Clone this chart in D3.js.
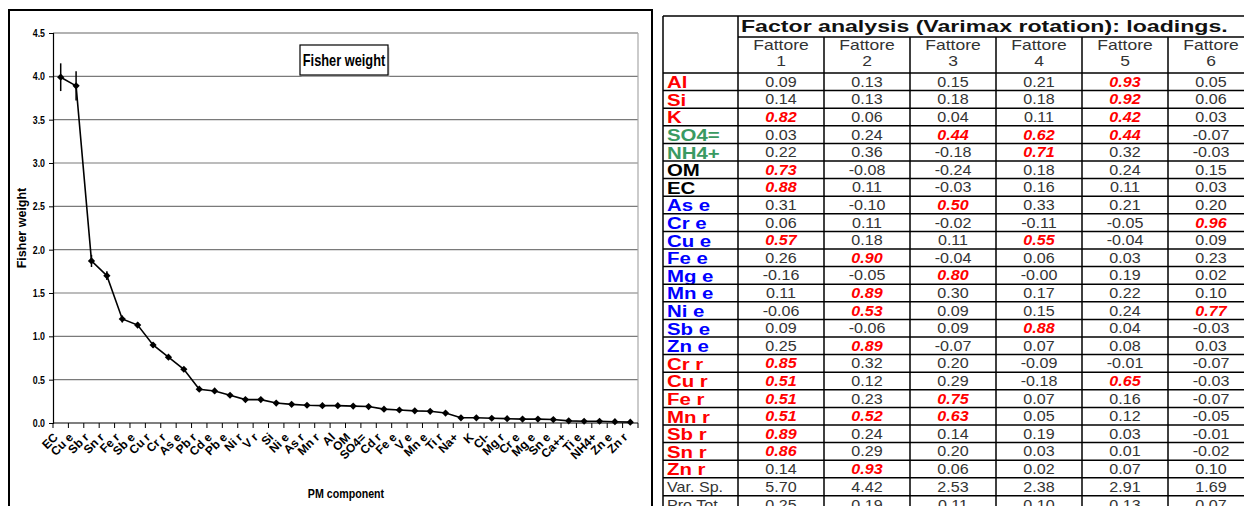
<!DOCTYPE html>
<html><head><meta charset="utf-8">
<script src="https://cdn.jsdelivr.net/npm/d3@7"></script>
<style>body{margin:0;background:#fff}svg{display:block}</style>
</head><body><svg id="c" width="1244" height="506"></svg>
<script>
// ---------- Fisher weight chart data ----------
const components = ["EC","Cu e","Sb r","Sn r","Fe r","Sb e","Cu r","Cr r","As e","Pb r","Cd e","Pb e","Ni r","V r","Si","Ni e","As r","Mn r","Al","OM","SO4=","Cd r","Fe e","V e","Mn e","Ti r","Na+","K","Cl-","Mg r","Cr e","Mg e","Sn e","Ca++","Ti e","NH4+","Zn e","Zn r"];
const fisherWeight = [3.99,3.89,1.87,1.70,1.20,1.13,0.90,0.76,0.62,0.39,0.37,0.32,0.27,0.27,0.23,0.215,0.205,0.20,0.20,0.195,0.19,0.16,0.15,0.14,0.135,0.115,0.06,0.06,0.055,0.05,0.045,0.045,0.04,0.025,0.02,0.02,0.015,0.01];
const fisherError = [0.16,0.17,0.07,0.05,0.04,0.03,0.03,0.02,0.02,0.02,0.02,0.02,0.02,0.01,0.01,0.01,0.01,0.01,0.01,0.01,0.01,0.01,0.01,0.01,0.01,0.01,0.01,0.01,0.01,0.01,0.01,0.01,0.01,0.01,0.01,0.01,0.01,0.01];
const yTickValues = [0,0.5,1,1.5,2,2.5,3,3.5,4,4.5];
const chartTitle = "Fisher weight";
const yTitle = "Fisher weight";
const xTitle = "PM component";

// ---------- Factor analysis table data ----------
const tableTitle = "Factor analysis (Varimax rotation): loadings.";
const factors = ["1","2","3","4","5","6"];
const rowLabels = ["Al","Si","K","SO4=","NH4+","OM","EC","As e","Cr e","Cu e","Fe e","Mg e","Mn e","Ni e","Sb e","Zn e","Cr r","Cu r","Fe r","Mn r","Sb r","Sn r","Zn r"];
const rowGroups = ["r","r","r","g","g","k","k","b","b","b","b","b","b","b","b","b","r","r","r","r","r","r","r"];
const fattore1 = ["0.09","0.14","0.82","0.03","0.22","0.73","0.88","0.31","0.06","0.57","0.26","-0.16","0.11","-0.06","0.09","0.25","0.85","0.51","0.51","0.51","0.89","0.86","0.14"];
const fattore2 = ["0.13","0.13","0.06","0.24","0.36","-0.08","0.11","-0.10","0.11","0.18","0.90","-0.05","0.89","0.53","-0.06","0.89","0.32","0.12","0.23","0.52","0.24","0.29","0.93"];
const fattore3 = ["0.15","0.18","0.04","0.44","-0.18","-0.24","-0.03","0.50","-0.02","0.11","-0.04","0.80","0.30","0.09","0.09","-0.07","0.20","0.29","0.75","0.63","0.14","0.20","0.06"];
const fattore4 = ["0.21","0.18","0.11","0.62","0.71","0.18","0.16","0.33","-0.11","0.55","0.06","-0.00","0.17","0.15","0.88","0.07","-0.09","-0.18","0.07","0.05","0.19","0.03","0.02"];
const fattore5 = ["0.93","0.92","0.42","0.44","0.32","0.24","0.11","0.21","-0.05","-0.04","0.03","0.19","0.22","0.24","0.04","0.08","-0.01","0.65","0.16","0.12","0.03","0.01","0.07"];
const fattore6 = ["0.05","0.06","0.03","-0.07","-0.03","0.15","0.03","0.20","0.96","0.09","0.23","0.02","0.10","0.77","-0.03","0.03","-0.07","-0.03","-0.07","-0.05","-0.01","-0.02","0.10"];
const summaryLabels = ["Var. Sp.","Pro Tot"];
const varSp = ["5.70","4.42","2.53","2.38","2.91","1.69"];
const proTot = ["0.25","0.19","0.11","0.10","0.13","0.07"];

const svg = d3.select("#c");
const SANS = "'Liberation Sans',Arial,sans-serif";

// helper: place text at data-x/data-y with horizontal scaling
const stretch = (sel, sx) => sel.attr("transform", function(){
  const xx = +this.getAttribute("data-x"), yy = +this.getAttribute("data-y");
  return `translate(${xx},${yy}) scale(${sx},1)`;});

// ---------- Left chart ----------
svg.append("rect").attr("x",9).attr("y",10).attr("width",643).attr("height",530)
  .attr("fill","#fff").attr("stroke","#000").attr("stroke-width",2);

const x = d3.scaleBand().domain(components).range([53,638]).padding(0);
const y = d3.scaleLinear().domain([0,4.5]).range([423,33]);

const g = svg.append("g");
g.selectAll("line.grid").data(yTickValues.filter(v=>v>0)).join("line")
  .attr("x1",53).attr("x2",638).attr("y1",d=>y(d)).attr("y2",d=>y(d))
  .attr("stroke","#7a7a7a").attr("stroke-width",1.2);
g.append("line").attr("x1",638).attr("x2",638).attr("y1",y(4.5)).attr("y2",y(0))
  .attr("stroke","#a8a8a8").attr("stroke-width",1.2);
g.append("line").attr("x1",53).attr("x2",638).attr("y1",y(4.5)).attr("y2",y(4.5))
  .attr("stroke","#a8a8a8").attr("stroke-width",1.2);

const yAxis = g.append("g").attr("transform","translate(53,0)")
  .call(d3.axisLeft(y).tickValues(yTickValues).tickFormat(d3.format(".1f")).tickSize(4).tickPadding(4));
yAxis.select(".domain").attr("stroke","#000").attr("stroke-width",1.2);
yAxis.selectAll(".tick line").attr("stroke","#000");
yAxis.selectAll(".tick text").attr("font-family",SANS).attr("font-weight","bold")
  .attr("font-size",11).attr("fill","#000")
  .attr("transform","scale(0.8,1)").attr("x",-8/0.8);

// x axis line and boundary ticks
g.append("line").attr("x1",53).attr("x2",638).attr("y1",y(0)).attr("y2",y(0))
  .attr("stroke","#000").attr("stroke-width",1.2);
const bounds = components.map(c=>x(c)).concat([x.range()[1]]);
g.selectAll("line.xt").data(bounds).join("line")
  .attr("x1",d=>d).attr("x2",d=>d).attr("y1",y(0)).attr("y2",y(0)+5)
  .attr("stroke","#000");
g.selectAll("text.xl").data(components).join("text")
  .attr("transform",d=>`translate(${x(d)+x.bandwidth()/2-2},${y(0)+15}) rotate(-45)`)
  .attr("text-anchor","end").attr("font-family",SANS).attr("font-weight","bold")
  .attr("font-size",12).attr("fill","#000").text(d=>d);

const pts = components.map((c,i)=>({c, v:fisherWeight[i], e:fisherError[i]}));
const cx = d=>x(d.c)+x.bandwidth()/2;
g.selectAll("line.err").data(pts).join("line")
  .attr("x1",cx).attr("x2",cx).attr("y1",d=>y(d.v+d.e)).attr("y2",d=>y(d.v-d.e))
  .attr("stroke","#000").attr("stroke-width",1.5);
g.append("path").datum(pts).attr("fill","none").attr("stroke","#000").attr("stroke-width",1.6)
  .attr("d",d3.line().x(cx).y(d=>y(d.v)));
g.selectAll("path.mk").data(pts).join("path")
  .attr("d",d3.symbol(d3.symbolSquare,26)())
  .attr("transform",d=>`translate(${cx(d)},${y(d.v)}) rotate(45)`).attr("fill","#000");

// chart title box
g.append("rect").attr("x",301.5).attr("y",47.5).attr("width",88).attr("height",29).attr("fill","#c8c8c8");
g.append("rect").attr("x",300).attr("y",45).attr("width",88).attr("height",30)
  .attr("fill","#fff").attr("stroke","#000").attr("stroke-width",1.2);
g.append("text").attr("data-x",344).attr("data-y",66).attr("text-anchor","middle")
  .attr("font-family",SANS).attr("font-weight","bold").attr("font-size",16).text(chartTitle).call(stretch,0.8);
g.append("text").attr("transform","translate(26,228) rotate(-90)").attr("text-anchor","middle")
  .attr("font-family",SANS).attr("font-weight","bold").attr("font-size",12.5).text(yTitle);
g.append("text").attr("data-x",346).attr("data-y",498).attr("text-anchor","middle")
  .attr("font-family",SANS).attr("font-weight","bold").attr("font-size",13).text(xTitle).call(stretch,0.82);

// ---------- Right table ----------
const t = svg.append("g");
const colors = {r:"#ff0000", g:"#3a9a62", b:"#0000ff", k:"#000"};
const cols = d3.scaleBand().domain(factors).range([738,1254]);
const rows = d3.scaleBand().domain(rowLabels).range([73,477.8]);
const rowH = rows.bandwidth();
const sumRows = d3.scaleBand().domain(summaryLabels).range([477.8,477.8+2*18]);
const columns = [fattore1,fattore2,fattore3,fattore4,fattore5,fattore6];

const cells = [];
rowLabels.forEach((r,i)=>factors.forEach((f,j)=>cells.push({r,f,v:columns[j][i]})));
t.selectAll("text.val").data(cells).join("text")
  .attr("data-x",d=>cols(d.f)+cols.bandwidth()/2).attr("data-y",d=>rows(d.r)+rowH/2+5)
  .attr("text-anchor","middle").attr("font-family",SANS)
  .attr("font-size",14)
  .attr("font-weight",d=>+d.v>0.4?"bold":"normal")
  .attr("font-style",d=>+d.v>0.4?"italic":"normal")
  .attr("fill",d=>+d.v>0.4?"#ff0000":"#333")
  .text(d=>d.v).call(stretch,1.15);

t.selectAll("text.lab").data(rowLabels).join("text")
  .attr("data-x",667).attr("data-y",(d)=>rows(d)+rowH-2.5)
  .attr("font-family",SANS).attr("font-weight","bold").attr("font-size",17)
  .attr("fill",(d,i)=>colors[rowGroups[i]]).text(d=>d).call(stretch,1.2);

const sumVals = [varSp, proTot];
summaryLabels.forEach((s,k)=>{
  t.append("text").attr("data-x",667).attr("data-y",sumRows(s)+14).attr("font-family",SANS)
    .attr("font-size",14).attr("fill","#333").text(s).call(stretch,1.15);
  t.selectAll(null).data(factors).join("text")
    .attr("data-x",f=>cols(f)+cols.bandwidth()/2).attr("data-y",sumRows(s)+14)
    .attr("text-anchor","middle").attr("font-family",SANS).attr("font-size",14).attr("fill","#333")
    .text((f,j)=>sumVals[k][j]).call(stretch,1.15);
});

t.append("text").attr("data-x",741).attr("data-y",32).attr("font-family",SANS).attr("font-weight","bold")
  .attr("font-size",17).attr("fill","#111").text(tableTitle).call(stretch,1.36);
t.selectAll("text.fh").data(factors).join("text")
  .attr("data-x",f=>cols(f)+cols.bandwidth()/2).attr("data-y",50)
  .attr("text-anchor","middle").attr("font-family",SANS).attr("font-size",14).attr("fill","#333")
  .text("Fattore").call(stretch,1.25);
t.selectAll("text.fn").data(factors).join("text")
  .attr("data-x",f=>cols(f)+cols.bandwidth()/2).attr("data-y",66)
  .attr("text-anchor","middle").attr("font-family",SANS).attr("font-size",14).attr("fill","#333")
  .text(f=>f).call(stretch,1.25);

const L = t.append("g").attr("stroke","#000").attr("stroke-width",1.5);
const yBottom = 520;
L.append("line").attr("x1",663).attr("x2",1254).attr("y1",16).attr("y2",16);
L.append("line").attr("x1",738).attr("x2",1254).attr("y1",37).attr("y2",37);
const hLines = [73].concat(rowLabels.map(r=>rows(r)+rowH)).concat(summaryLabels.map(s=>sumRows(s)+18));
L.selectAll("line.h").data(hLines).join("line")
  .attr("x1",663).attr("x2",1254).attr("y1",d=>d).attr("y2",d=>d);
L.append("line").attr("x1",663).attr("x2",663).attr("y1",16).attr("y2",yBottom);
L.append("line").attr("x1",738).attr("x2",738).attr("y1",16).attr("y2",yBottom);
L.selectAll("line.v").data(factors.slice(1)).join("line")
  .attr("x1",f=>cols(f)).attr("x2",f=>cols(f)).attr("y1",37).attr("y2",yBottom);
</script></body></html>
